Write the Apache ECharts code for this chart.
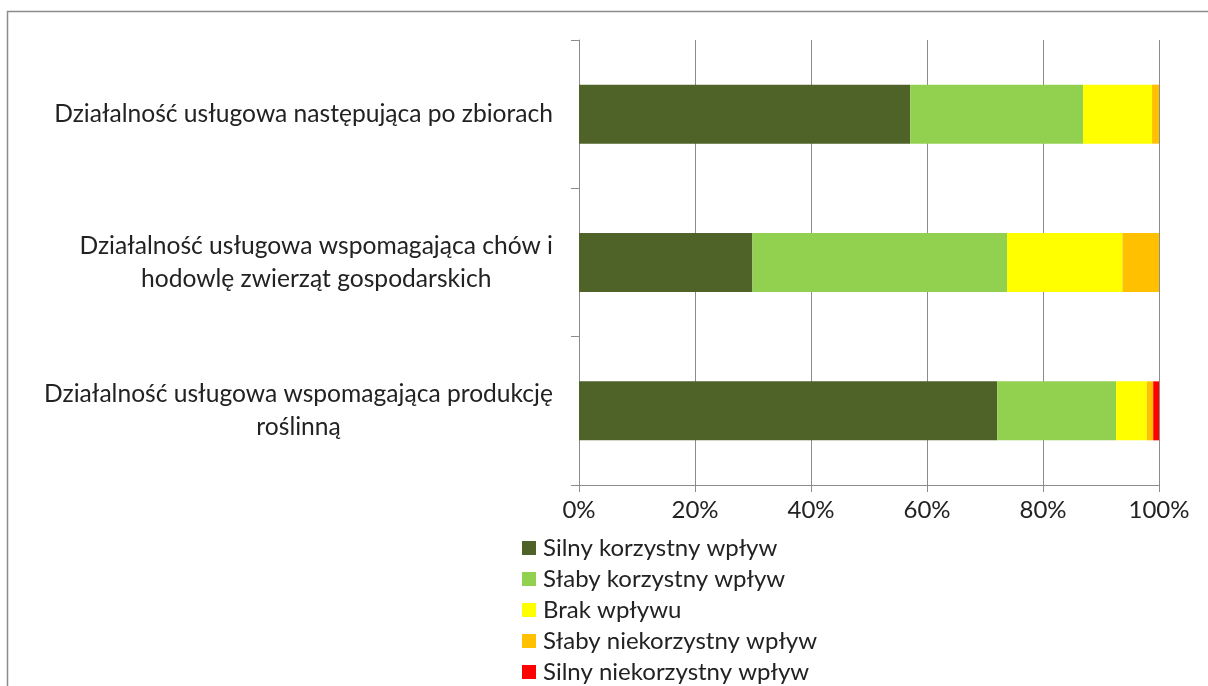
<!DOCTYPE html>
<html>
<head>
<meta charset="utf-8">
<script src="https://cdn.jsdelivr.net/npm/echarts@6/dist/echarts.min.js"></script>
<style>
  html, body { margin: 0; padding: 0; background: #ffffff; }
  #chart { width: 1208px; height: 686px; }
</style>
</head>
<body>
<div id="chart"></div>
<script>
// Service activity categories (top to bottom)
const categories = [
  'Działalność usługowa następująca po zbiorach',
  'Działalność usługowa wspomagająca chów i\nhodowlę zwierząt gospodarskich',
  'Działalność usługowa wspomagająca produkcję\nroślinną'
];

// Share of responses (%) per impact level
const silnyKorzystny    = [57.1, 29.9, 72.1];
const slabyKorzystny    = [29.8, 43.9, 20.5];
const brakWplywu        = [11.9, 19.9, 5.3];
const slabyNiekorzystny = [1.2, 6.3, 1.1];
const silnyNiekorzystny = [0, 0, 1.0];

const seriesNames = [
  'Silny korzystny wpływ',
  'Słaby korzystny wpływ',
  'Brak wpływu',
  'Słaby niekorzystny wpływ',
  'Silny niekorzystny wpływ'
];
const seriesData = [silnyKorzystny, slabyKorzystny, brakWplywu, slabyNiekorzystny, silnyNiekorzystny];
const seriesColors = ['#4F6228', '#92D050', '#FFFF00', '#FFC000', '#FF0000'];

const xTicks = [0, 20, 40, 60, 80, 100];

const FONT = 'Lato, "Open Sans", sans-serif';
const FS = 24;
const FS_CAT = 24.6;
const TEXT = '#222222';
const chart = echarts.init(document.getElementById('chart'), null, { renderer: 'canvas' });

chart.setOption({
  animation: false,
  backgroundColor: '#ffffff',
  textStyle: { fontFamily: FONT },
  graphic: [{
    type: 'rect',
    shape: { x: 7.5, y: 11.5, width: 1300, height: 800 },
    style: { fill: 'none', stroke: '#8c8c8c', lineWidth: 1.5 },
    silent: true
  }],
  grid: { left: 579, right: 49, top: 40, bottom: 201, containLabel: false },
  xAxis: {
    type: 'value',
    min: xTicks[0],
    max: xTicks[xTicks.length - 1],
    interval: xTicks[1] - xTicks[0],
    axisLine: { show: true, lineStyle: { color: '#8c8c8c', width: 1 } },
    axisTick: { show: true, length: 7, lineStyle: { color: '#8c8c8c' } },
    splitLine: { show: true, lineStyle: { color: '#8c8c8c', width: 1 } },
    axisLabel: {
      formatter: '{value}%',
      color: TEXT,
      fontSize: FS,
      fontFamily: FONT,
      margin: 13
    }
  },
  yAxis: {
    type: 'category',
    inverse: true,
    data: categories,
    axisLine: { show: true, lineStyle: { color: '#8c8c8c', width: 1 } },
    axisTick: { show: true, length: 8, alignWithLabel: false, lineStyle: { color: '#8c8c8c' } },
    axisLabel: {
      color: TEXT,
      fontSize: FS_CAT,
      fontFamily: FONT,
      margin: 26,
      align: 'right',
      formatter: function (v) {
        return v.split('\n').map(function (l) { return '{c|' + l + '}'; }).join('\n');
      },
      rich: {
        c: { align: 'center', fontSize: FS_CAT, fontFamily: FONT, color: TEXT, lineHeight: 33 }
      }
    }
  },
  legend: {
    orient: 'vertical',
    left: 522,
    top: 536,
    padding: 0,
    itemWidth: 14,
    itemHeight: 14,
    itemGap: 7,
    icon: 'rect',
    textStyle: { fontSize: FS, fontFamily: FONT, color: TEXT, lineHeight: 24, padding: [0, 0, 0, 2] },
    data: seriesNames
  },
  series: seriesNames.map(function (name, i) {
    return {
      name: name,
      type: 'bar',
      stack: 'total',
      barWidth: 59,
      data: seriesData[i],
      itemStyle: { color: seriesColors[i] }
    };
  })
});
</script>
</body>
</html>
